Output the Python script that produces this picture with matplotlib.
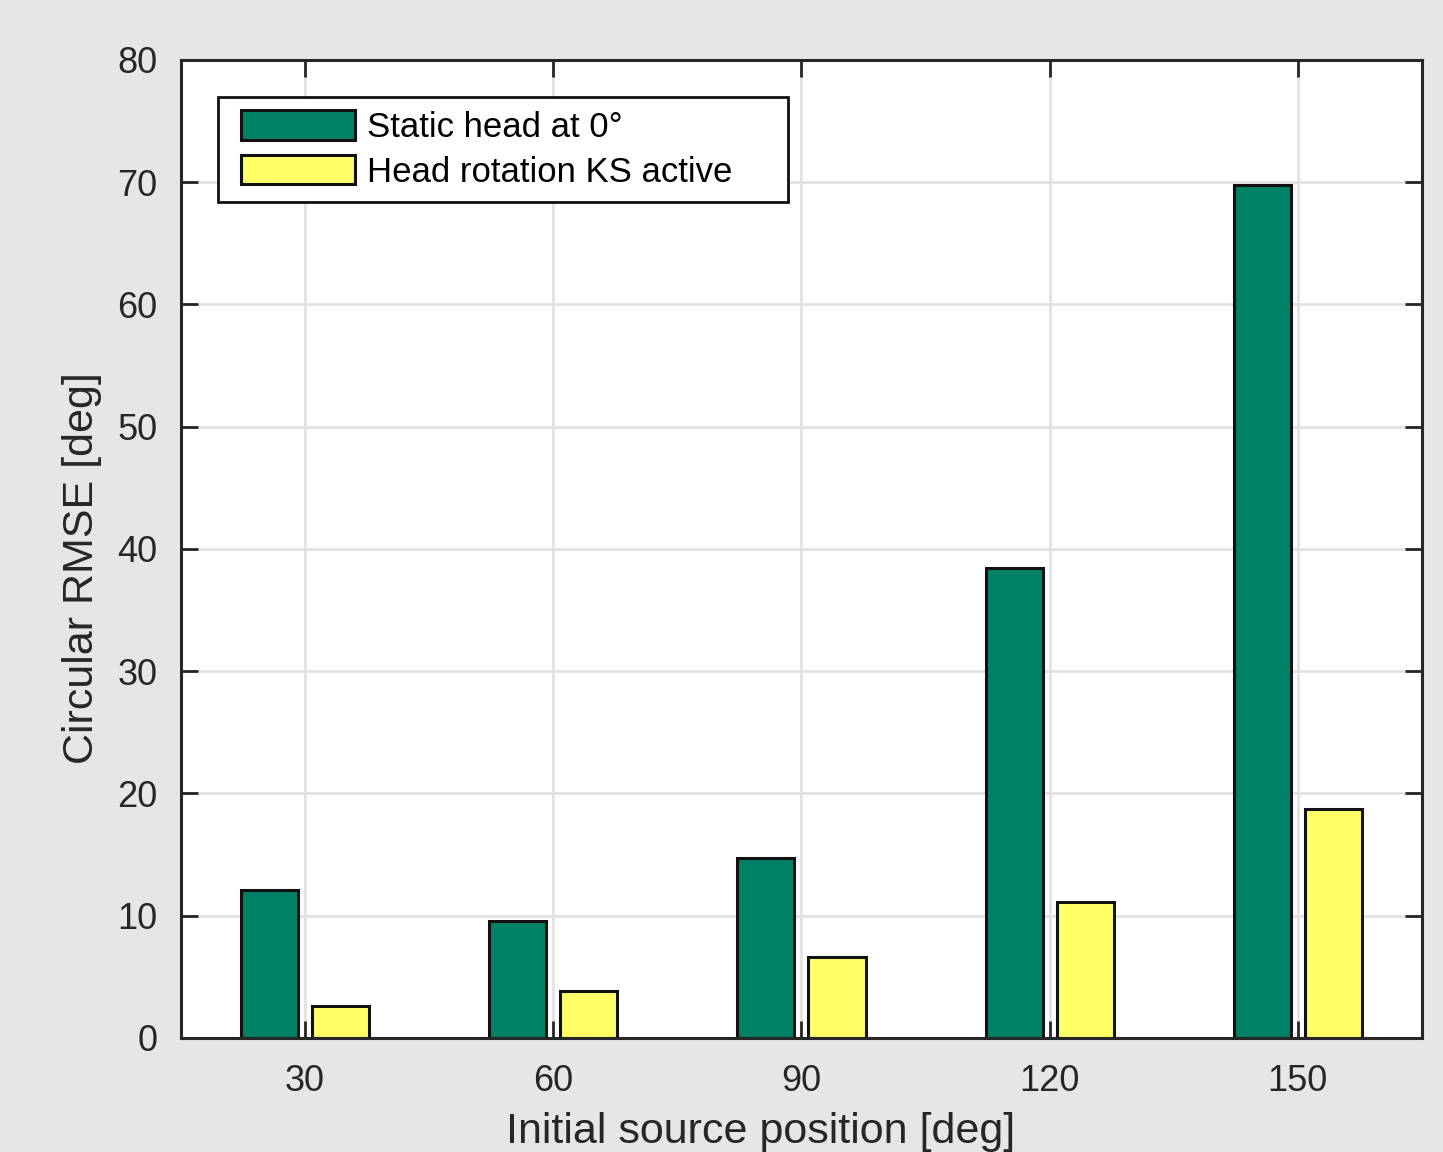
import matplotlib
matplotlib.use('Agg')
import numpy as np
import matplotlib.pyplot as plt
from matplotlib.patches import Rectangle
from matplotlib.container import BarContainer
from matplotlib.legend_handler import HandlerPatch

# data
positions = [30, 60, 90, 120, 150]
static_head = [12.1, 9.6, 14.7, 38.4, 69.8]
head_rotation = [2.6, 3.8, 6.6, 11.1, 18.7]
labels = ['Static head at 0°', 'Head rotation KS active']

plt.rcParams['font.family'] = ['Liberation Sans', 'DejaVu Sans']
txt = '#262626'

fig = plt.figure(figsize=(14.43, 11.52), dpi=100, facecolor='#e6e6e6')
ax = fig.add_axes([0.1254, 0.099, 0.86, 0.849])

x = np.array(positions)
w = 6.9
off = 4.3
ax.bar(x - off, static_head, w, color='#008066', edgecolor='#111111', linewidth=2.2, label=labels[0], zorder=3)
ax.bar(x + off, head_rotation, w, color='#ffff66', edgecolor='#111111', linewidth=2.2, label=labels[1], zorder=3)

ax.set_xlim(15, 165)
ax.set_ylim(0, 80)
ax.set_xticks(positions)
ax.set_yticks(range(0, 81, 10))
ax.grid(True, color='#e2e2e2', linewidth=2, zorder=0)
ax.set_axisbelow(True)
ax.tick_params(direction='in', length=12, width=2, top=True, right=True,
               labelsize=26, colors=txt)
ax.tick_params(axis='x', pad=19)
ax.tick_params(axis='y', pad=17)
for s in ax.spines.values():
    s.set_linewidth(2.2)
    s.set_color(txt)
    s.set_zorder(5)

ax.set_ylabel('Circular RMSE [deg]', fontsize=31, color=txt)
ax.yaxis.set_label_coords(-0.064, 0.48)
ax.set_xlabel('Initial source position [deg]', fontsize=31, color=txt)
ax.xaxis.set_label_coords(0.4674, -0.107)
ax.xaxis.label.set_va('baseline')


# legend swatch shifted right inside its slot, like the original
def swatch(legend, orig_handle, xdescent, ydescent, width, height, fontsize):
    sw = width * 114 / 123
    sh = fontsize * 0.86
    return Rectangle((-xdescent + width - sw, -ydescent + (height - sh) / 2), sw, sh)


def copy_style(legend_handle, orig_handle):
    legend_handle.update_from(orig_handle.patches[0])


leg = ax.legend(loc='upper left', bbox_to_anchor=(0.0298, 0.9622, 0.4593, 0.0),
                mode='expand', fancybox=False, edgecolor='#111111', fontsize=25,
                handlelength=3.54, handleheight=0.86, handletextpad=0.35,
                borderpad=0.4, labelspacing=0.34, framealpha=1, borderaxespad=0,
                handler_map={BarContainer: HandlerPatch(patch_func=swatch, update_func=copy_style)})
leg.get_frame().set_linewidth(2)

fig.savefig('out.png', dpi=100, facecolor=fig.get_facecolor())
